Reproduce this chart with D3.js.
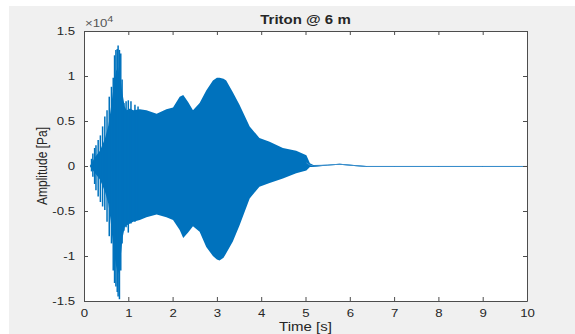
<!DOCTYPE html>
<html>
<head>
<meta charset="utf-8">
<script src="https://cdn.jsdelivr.net/npm/d3@7"></script>
<style>
  body { margin: 0; background: #fff; }
  text { font-family: "Liberation Sans", Arial, sans-serif; fill: #262626; }
</style>
</head>
<body>
<div id="chart"></div>
<script>
var svgWidth = 575;
var svgHeight = 334;

var margin = { top: 31, right: 48, bottom: 33, left: 84 };
var width = svgWidth - margin.left - margin.right;
var height = svgHeight - margin.top - margin.bottom;

// envelope of the pressure signal (x 1e4 Pa)
var times = [0, 0.13, 0.17, 0.25, 0.36, 0.47, 0.55, 0.6, 0.66, 0.72, 0.77, 0.8, 0.83, 0.87, 0.92, 0.96,
  1.04, 1.11, 1.26, 1.41, 1.64, 1.86, 2.01, 2.16, 2.24, 2.35, 2.46, 2.61, 2.76, 2.91, 3.0, 3.06, 3.15, 3.21,
  3.36, 3.51, 3.74, 3.96, 4.19, 4.49, 4.79, 5.02, 5.1, 5.18, 5.5, 5.77, 6.1, 6.37, 7, 8, 9, 10];
var upper = [0, 0, 0.03, 0.1, 0.17, 0.3, 0.45, 0.62, 0.85, 1.05, 1.1, 1.0, 0.95, 0.8, 0.66, 0.62,
  0.64, 0.62, 0.63, 0.62, 0.58, 0.63, 0.65, 0.77, 0.79, 0.71, 0.62, 0.7, 0.84, 0.95, 0.98, 0.98, 0.97, 0.95,
  0.82, 0.68, 0.44, 0.31, 0.27, 0.2, 0.17, 0.12, 0.03, 0.01, 0.015, 0.025, 0.01, 0.0, 0.0, 0.0, 0.0, 0.0];
var lower = [0, 0, -0.03, -0.08, -0.15, -0.28, -0.42, -0.6, -0.9, -1.1, -1.2, -1.15, -1.0, -0.8, -0.68, -0.66,
  -0.64, -0.62, -0.6, -0.57, -0.54, -0.57, -0.6, -0.71, -0.8, -0.74, -0.67, -0.73, -0.9, -1.0, -1.04, -1.05, -1.02, -0.97,
  -0.84, -0.66, -0.36, -0.23, -0.19, -0.14, -0.08, -0.05, -0.01, -0.01, 0.005, 0.015, 0.0, -0.01, -0.01, -0.01, -0.01, -0.01];

// isolated spikes sticking out of the envelope in the attack
var spikeT = [0.17, 0.2, 0.24, 0.27, 0.32, 0.37, 0.42, 0.47, 0.52, 0.57, 0.62, 0.66, 0.69, 0.72, 0.75, 0.77, 0.8, 0.83, 0.86, 0.9, 0.95, 1.0, 1.06, 1.15, 1.22];
var spikeHi = [0.08, 0.14, 0.2, 0.23, 0.29, 0.34, 0.44, 0.55, 0.62, 0.77, 0.88, 0.98, 1.23, 1.29, 1.3, 1.34, 1.29, 1.25, 0.96, 0.7, 0.72, 0.73, 0.72, 0.68, 0.66];
var spikeLo = [-0.06, -0.12, -0.2, -0.27, -0.34, -0.4, -0.45, -0.49, -0.62, -0.78, -0.86, -1.16, -1.3, -1.34, -1.4, -1.45, -1.48, -1.16, -0.86, -0.72, -0.68, -0.74, -0.64, -0.62, -0.6];

var xTicks = [0, 1, 2, 3, 4, 5, 6, 7, 8, 9, 10];
var yTicks = [-1.5, -1, -0.5, 0, 0.5, 1, 1.5];
var yTickLabels = ["-1.5", "-1", "-0.5", "0", "0.5", "1", "1.5"];

var blue = "#0072BD";
var stretch = 1.2; // the reference text is a bit wide

var svg = d3.select("#chart")
  .append("svg")
  .attr("width", svgWidth)
  .attr("height", svgHeight);

// figure background (gray panel with a thin white edge)
svg.append("rect")
  .attr("x", 9).attr("y", 6)
  .attr("width", svgWidth - 9).attr("height", svgHeight - 6)
  .attr("fill", "#f0f0f0");

var chartGroup = svg.append("g")
  .attr("transform", `translate(${margin.left}, ${margin.top})`);

chartGroup.append("rect")
  .attr("width", width)
  .attr("height", height)
  .attr("fill", "#fff");

var xScale = d3.scaleLinear().domain([0, 10]).range([0, width]);
var yScale = d3.scaleLinear().domain([-1.5, 1.5]).range([height, 0]);

var data = times.map((t, i) => ({ t: t, hi: upper[i], lo: lower[i] }));

var area = d3.area()
  .x(d => xScale(d.t))
  .y0(d => yScale(d.lo))
  .y1(d => yScale(d.hi));

var line = d3.line()
  .x(d => xScale(d.t))
  .y(d => yScale((d.hi + d.lo) / 2));

chartGroup.append("path")
  .datum(data)
  .attr("d", area)
  .attr("fill", blue);

// thin trace where the envelope collapses to a line
chartGroup.append("path")
  .datum(data.filter(d => d.t >= 5.02))
  .attr("d", line)
  .attr("fill", "none")
  .attr("stroke", "#3d8fcc")
  .attr("stroke-width", 1);

var spikes = spikeT.map((t, i) => ({ t: t, hi: spikeHi[i], lo: spikeLo[i] }));
chartGroup.selectAll(".spike")
  .data(spikes)
  .enter()
  .append("line")
  .attr("class", "spike")
  .attr("x1", d => xScale(d.t))
  .attr("x2", d => xScale(d.t))
  .attr("y1", d => yScale(d.hi))
  .attr("y2", d => yScale(d.lo))
  .attr("stroke", blue)
  .attr("stroke-width", 1.5);

// axes, ticks pointing inward as in MATLAB
var axisColor = "#4d4d4d";
var tickLen = 4;

var bottomAxis = d3.axisBottom(xScale).tickValues(xTicks).tickSizeInner(-tickLen).tickSizeOuter(0).tickPadding(8);
var topAxis = d3.axisTop(xScale).tickValues(xTicks).tickSizeInner(-tickLen).tickSizeOuter(0).tickFormat("");
var leftAxis = d3.axisLeft(yScale).tickValues(yTicks).tickSizeInner(-tickLen).tickSizeOuter(0).tickPadding(9)
  .tickFormat((d, i) => yTickLabels[i]);
var rightAxis = d3.axisRight(yScale).tickValues(yTicks).tickSizeInner(-tickLen).tickSizeOuter(0).tickFormat("");

var xAxisG = chartGroup.append("g").attr("transform", `translate(0, ${height})`).call(bottomAxis);
chartGroup.append("g").call(topAxis);
var yAxisG = chartGroup.append("g").call(leftAxis);
chartGroup.append("g").attr("transform", `translate(${width}, 0)`).call(rightAxis);

chartGroup.selectAll(".domain").attr("stroke", axisColor);
chartGroup.selectAll(".tick line").attr("stroke", axisColor);
chartGroup.selectAll(".tick text")
  .attr("fill", "#333")
  .style("font-size", "11px")
  .style("font-family", "'Liberation Sans', Arial, sans-serif");

// widen tick labels horizontally, keeping their anchor points
xAxisG.selectAll(".tick text").attr("transform", `scale(${stretch},1)`);
yAxisG.selectAll(".tick text")
  .attr("x", -(tickLen + 9) / stretch + 4 / stretch)
  .attr("transform", `scale(${stretch},1)`);

// title and labels
svg.append("text")
  .attr("transform", `translate(${margin.left + width / 2}, 24) scale(${stretch + 0.05},1)`)
  .attr("text-anchor", "middle")
  .style("font-size", "12px")
  .style("font-weight", "bold")
  .text("Triton @ 6 m");

svg.append("text")
  .attr("transform", `translate(${margin.left + width / 2}, 331) scale(${stretch + 0.05},1)`)
  .attr("text-anchor", "middle")
  .style("font-size", "12px")
  .text("Time [s]");

svg.append("text")
  .attr("transform", `translate(47, ${margin.top + height / 2}) scale(${stretch},1) rotate(-90)`)
  .attr("text-anchor", "middle")
  .style("font-size", "12px")
  .text("Amplitude [Pa]");

var expo = svg.append("text")
  .attr("transform", `translate(${margin.left + 1}, 27) scale(${stretch},1)`)
  .style("font-size", "11px")
  .style("fill", "#555");
expo.append("tspan").text("\u00d710");
expo.append("tspan").attr("dy", -5).style("font-size", "9px").text("4");
</script>
</body>
</html>
